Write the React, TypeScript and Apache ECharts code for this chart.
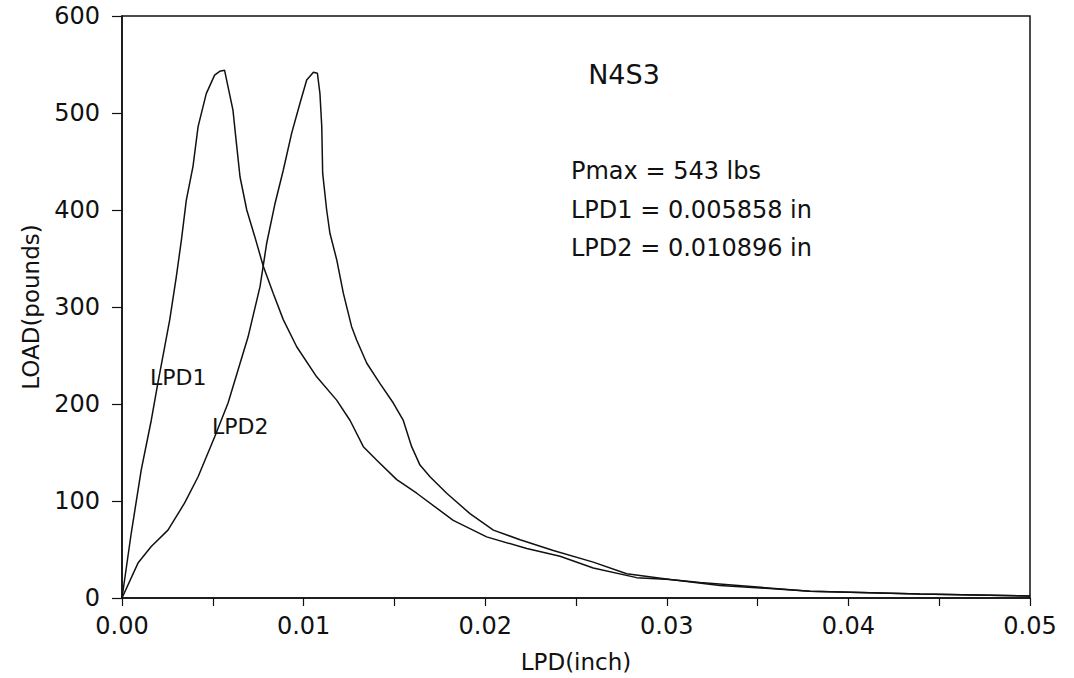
import React, { useEffect, useRef } from "react";
import * as echarts from "echarts";

const lpd1X = [0, 0.00051, 0.00106, 0.00161, 0.00198, 0.00235, 0.00263, 0.00299, 0.00327, 0.00354, 0.00391, 0.00419, 0.00464, 0.0051, 0.00538, 0.00565, 0.00584, 0.00611, 0.0063, 0.0065, 0.00687, 0.00732, 0.00778, 0.00833, 0.00888, 0.00962, 0.01072, 0.01182, 0.01256, 0.01329, 0.01403, 0.01513, 0.01623, 0.01824, 0.02008, 0.02229, 0.02412, 0.02595, 0.02834, 0.03018, 0.03183, 0.03789, 0.04394, 0.05];
const lpd1Y = [0, 67, 132, 183, 222, 259, 287, 331, 369, 410, 445, 486, 520, 539, 543, 544, 527, 503, 469, 434, 400, 372, 342, 314, 287, 259, 228, 204, 183, 156, 142, 122, 108, 80, 63, 51, 43, 31, 21, 19, 16, 7, 4, 2];

const lpd2X = [0, 0.00088, 0.00161, 0.00253, 0.00345, 0.00419, 0.0051, 0.00584, 0.00639, 0.00694, 0.0076, 0.00797, 0.00843, 0.00888, 0.00934, 0.0098, 0.01017, 0.01054, 0.01076, 0.0109, 0.011, 0.01105, 0.01127, 0.01145, 0.01182, 0.01219, 0.01264, 0.01292, 0.01348, 0.01421, 0.01494, 0.01549, 0.01595, 0.01641, 0.01696, 0.01788, 0.01916, 0.02045, 0.02192, 0.02375, 0.02595, 0.02779, 0.03018, 0.03293, 0.03789, 0.04394, 0.05];
const lpd2Y = [0, 36, 53, 70, 98, 125, 166, 201, 235, 269, 321, 366, 407, 441, 479, 510, 534, 542, 541, 520, 486, 438, 400, 376, 349, 314, 280, 266, 242, 221, 201, 183, 156, 137, 125, 108, 87, 70, 60, 49, 37, 25, 19, 13, 7, 4, 2];

const title = "N4S3";
const notes = ["Pmax = 543 lbs", "LPD1 = 0.005858 in", "LPD2 = 0.010896 in"];
const seriesNames = ["LPD1", "LPD2"];

const FONT = "DejaVu Sans";
const INK = "#111";

function zip(xs: number[], ys: number[]) {
  return xs.map((x, i) => [x, ys[i]]);
}

export default function App() {
  const ref = useRef<HTMLDivElement>(null);
  useEffect(() => {
    if (!ref.current) return;
    const chart = echarts.init(ref.current, undefined, { renderer: "svg" });
    const lineStyle = { color: INK, width: 1.5 };
    chart.setOption({
      animation: false,
      backgroundColor: "#fff",
      grid: {
        left: 122,
        right: 44,
        top: 16,
        bottom: 80,
        show: true,
        borderColor: INK,
        borderWidth: 1.5,
        backgroundColor: "transparent",
      },
      xAxis: {
        type: "value",
        min: 0,
        max: 0.05,
        interval: 0.01,
        name: "LPD(inch)",
        nameLocation: "middle",
        nameGap: 52,
        nameTextStyle: { fontSize: 23, color: INK, fontFamily: FONT },
        axisLine: { show: true, onZero: false, lineStyle: { color: INK, width: 1.5 } },
        axisTick: { show: true, inside: false, length: 8, lineStyle: { color: INK, width: 1.2 } },
        minorTick: { show: true, splitNumber: 2, length: 8, lineStyle: { color: INK, width: 1.2 } },
        splitLine: { show: false },
        minorSplitLine: { show: false },
        axisLabel: {
          margin: 16,
          fontSize: 24,
          color: INK,
          fontFamily: FONT,
          formatter: (v: number) => v.toFixed(2),
        },
      },
      yAxis: {
        type: "value",
        min: 0,
        max: 600,
        interval: 100,
        name: "LOAD(pounds)",
        nameLocation: "middle",
        nameGap: 80,
        nameRotate: 90,
        nameTextStyle: { fontSize: 23, color: INK, fontFamily: FONT },
        axisLine: { show: true, onZero: false, lineStyle: { color: INK, width: 1.5 } },
        axisTick: { show: true, inside: false, length: 10, lineStyle: { color: INK, width: 1.2 } },
        splitLine: { show: false },
        axisLabel: { margin: 22, fontSize: 24, color: INK, fontFamily: FONT },
      },
      series: [
        {
          name: seriesNames[0],
          type: "line",
          showSymbol: false,
          data: zip(lpd1X, lpd1Y),
          lineStyle,
          itemStyle: { color: INK },
        },
        {
          name: seriesNames[1],
          type: "line",
          showSymbol: false,
          data: zip(lpd2X, lpd2Y),
          lineStyle,
          itemStyle: { color: INK },
        },
      ],
      graphic: [
        {
          type: "text",
          x: 624,
          y: 74,
          style: { text: title, font: `27px '${FONT}'`, fill: INK, align: "center", verticalAlign: "middle" },
        },
        ...notes.map((t, i) => ({
          type: "text",
          x: 571,
          y: 171 + i * 38.5,
          style: { text: t, font: `24px '${FONT}'`, fill: INK, align: "left", verticalAlign: "middle" },
        })),
        {
          type: "text",
          x: 150,
          y: 377,
          style: { text: seriesNames[0], font: `22px '${FONT}'`, fill: INK, align: "left", verticalAlign: "middle" },
        },
        {
          type: "text",
          x: 212,
          y: 426,
          style: { text: seriesNames[1], font: `22px '${FONT}'`, fill: INK, align: "left", verticalAlign: "middle" },
        },
      ],
    });
    return () => chart.dispose();
  }, []);
  return <div ref={ref} style={{ width: 1074, height: 678, position: "absolute", left: 0, top: 0 }} />;
}
